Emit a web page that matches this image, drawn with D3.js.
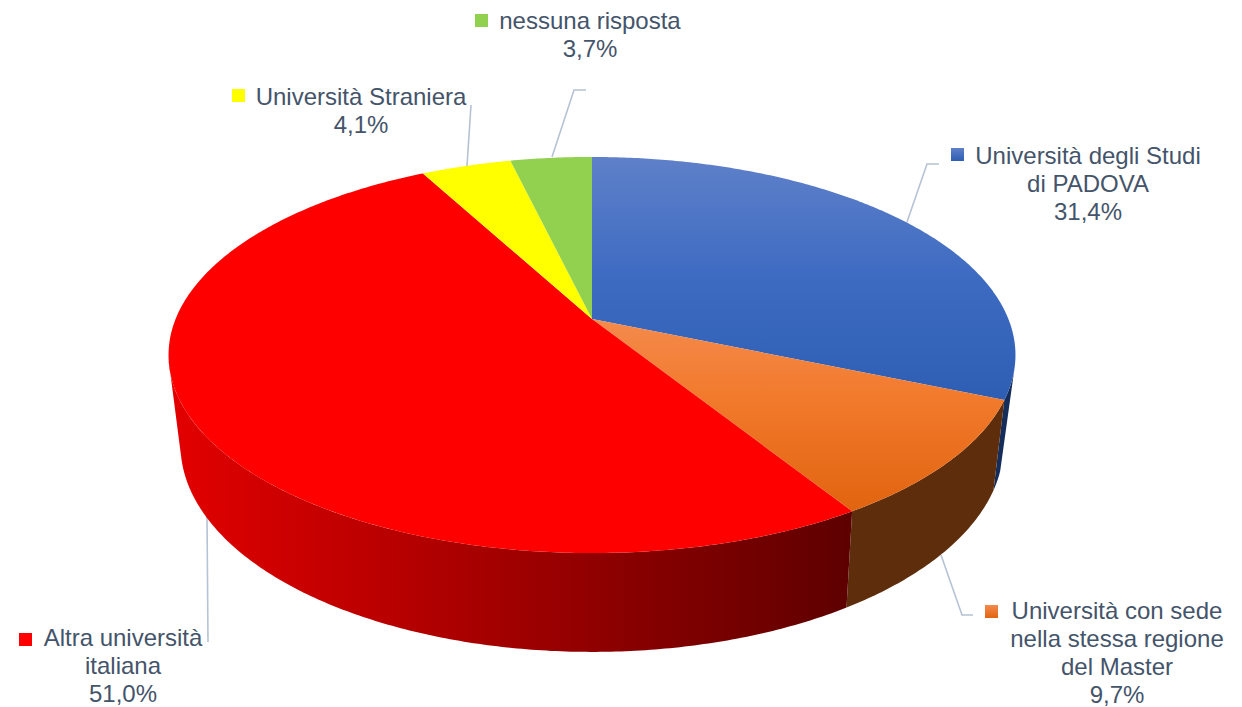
<!DOCTYPE html>
<html>
<head>
<meta charset="utf-8">
<script src="https://cdn.jsdelivr.net/npm/d3@7"></script>
<style>
  html, body { margin: 0; background: #fff; }
  text { font-family: "Liberation Sans", Arial, sans-serif; font-size: 24px; fill: #44546a; text-anchor: middle; }
</style>
</head>
<body>
<svg id="chart" width="1242" height="707"></svg>
<script>
const categories = ['Università degli Studi di PADOVA', 'Università con sede nella stessa regione del Master', 'Altra università italiana', 'Università Straniera', 'nessuna risposta'];
const values = [31.4, 9.7, 51.0, 4.1, 3.7];
const labelLines = [
  ['Università degli Studi', 'di PADOVA'],
  ['Università con sede', 'nella stessa regione', 'del Master'],
  ['Altra università', 'italiana'],
  ['Università Straniera'],
  ['nessuna risposta']
];
const percentLabels = ['31,4%', '9,7%', '51,0%', '4,1%', '3,7%'];
const swatchColors = ['url(#blue-top)', 'url(#orange-top)', '#ff0000', '#ffff00', '#92d050'];
const wallColors = ['#152d5a', '#5e2d0c', 'url(#red-wall)', '#000', '#000'];

// label placement: centre x, first baseline, swatch corner
const labelX = [1088, 1117, 123, 361, 590];
const labelY = [164, 619, 646, 105, 29];
const swatchX = [951, 985, 19, 232, 475];
const swatchY = [148, 605, 633, 89, 14];
const leaders = [
  [[907, 222], [927, 164], [939, 164]],
  [[941, 555], [962, 615], [973, 615]],
  [[207, 516], [208, 642]],
  [[467, 166], [471, 105]],
  [[552, 157], [574, 90], [586, 90]]
];

// perspective circles, fitted on the picture (top face and bottom rim of the cake)
const topFace = { cx: 592, cy: 319, a: 416.4, b: 191.5, k: 0.1818 };
const bottomRim = { cx: 592, cy: 405.6, a: 404, b: 199.5, k: 0.19 };
// where the side outline leaves each circle (degrees)
const silhouette = { right: { top: 104.7, bottom: 108 }, left: { top: 258, bottom: 255 } };

function project(c, angle) {
  const d = 1 + c.k * Math.cos(angle);
  return [c.cx + c.a * Math.sin(angle) / d, c.cy - c.b * Math.cos(angle) / d];
}

function arcPoints(c, a0, a1) {
  const n = Math.max(2, Math.ceil(Math.abs(a1 - a0) / 0.01));
  return d3.range(n + 1).map(i => project(c, a0 + (a1 - a0) * i / n));
}

const rad = d => d * Math.PI / 180;
const svg = d3.select('#chart');
const line = d3.line();

const defs = svg.append('defs');
function gradient(id, x1, y1, x2, y2, stops) {
  const g = defs.append('linearGradient').attr('id', id)
    .attr('gradientUnits', 'userSpaceOnUse')
    .attr('x1', x1).attr('y1', y1).attr('x2', x2).attr('y2', y2);
  stops.forEach(s => g.append('stop').attr('offset', s[0]).attr('stop-color', s[1]));
}
gradient('blue-top', 0, 157, 0, 400, [[0, '#5f80c9'], [0.5, '#3d6bc2'], [1, '#2e5eb4']]);
gradient('orange-top', 0, 320, 0, 513, [[0, '#f48a4c'], [0.4, '#f27a2c'], [1, '#e1640f']]);
gradient('red-wall', 175, 0, 850, 0, [[0, '#e20000'], [1, '#5e0000']]);
// small legend keys get their own gradient
defs.append('linearGradient').attr('id', 'blue-key').attr('x2', 0).attr('y2', 1)
  .call(g => { g.append('stop').attr('stop-color', '#5f80c9'); g.append('stop').attr('offset', 1).attr('stop-color', '#2e5eb4'); });
defs.append('linearGradient').attr('id', 'orange-key').attr('x2', 0).attr('y2', 1)
  .call(g => { g.append('stop').attr('stop-color', '#f48a4c'); g.append('stop').attr('offset', 1).attr('stop-color', '#e1640f'); });

const slices = d3.pie().sort(null).value(d => d)(values);

// leader lines sit under the cake
svg.append('g').selectAll('path')
  .data(leaders)
  .join('path')
  .attr('d', d => line(d))
  .attr('fill', 'none')
  .attr('stroke', '#b5c3d5')
  .attr('stroke-width', 1.6);

// side walls: only the front part of each slice shows
function wallPath(d) {
  const rightT = rad(silhouette.right.top), rightB = rad(silhouette.right.bottom);
  const leftT = rad(silhouette.left.top), leftB = rad(silhouette.left.bottom);
  const t0 = Math.max(d.startAngle, rightT), t1 = Math.min(d.endAngle, leftT);
  const b0 = Math.max(d.startAngle, Math.min(rightB, d.endAngle)), b1 = Math.min(d.endAngle, leftB);
  if (t0 >= t1) return null;
  return line(arcPoints(topFace, t0, t1).concat(arcPoints(bottomRim, b1, b0))) + 'Z';
}

svg.append('g').selectAll('path')
  .data(slices.filter(d => wallPath(d)))
  .join('path')
  .attr('d', wallPath)
  .attr('fill', d => wallColors[d.index]);

// top face
svg.append('g').selectAll('path')
  .data(slices)
  .join('path')
  .attr('d', d => line([[topFace.cx, topFace.cy]].concat(arcPoints(topFace, d.startAngle, d.endAngle))) + 'Z')
  .attr('fill', d => swatchColors[d.index]);

// labels
const label = svg.append('g').selectAll('g')
  .data(categories)
  .join('g');

label.append('rect')
  .attr('x', (d, i) => swatchX[i])
  .attr('y', (d, i) => swatchY[i])
  .attr('width', 13)
  .attr('height', 13)
  .attr('fill', (d, i) => i == 0 ? 'url(#blue-key)' : i == 1 ? 'url(#orange-key)' : swatchColors[i]);

label.append('text')
  .attr('y', (d, i) => labelY[i])
  .each(function (d, i) {
    const t = d3.select(this);
    labelLines[i].concat(percentLabels[i]).forEach((s, j) => {
      t.append('tspan')
        .attr('x', labelX[i])
        .attr('y', labelY[i] + j * 28)
        .text(s);
    });
  });
</script>
</body>
</html>
